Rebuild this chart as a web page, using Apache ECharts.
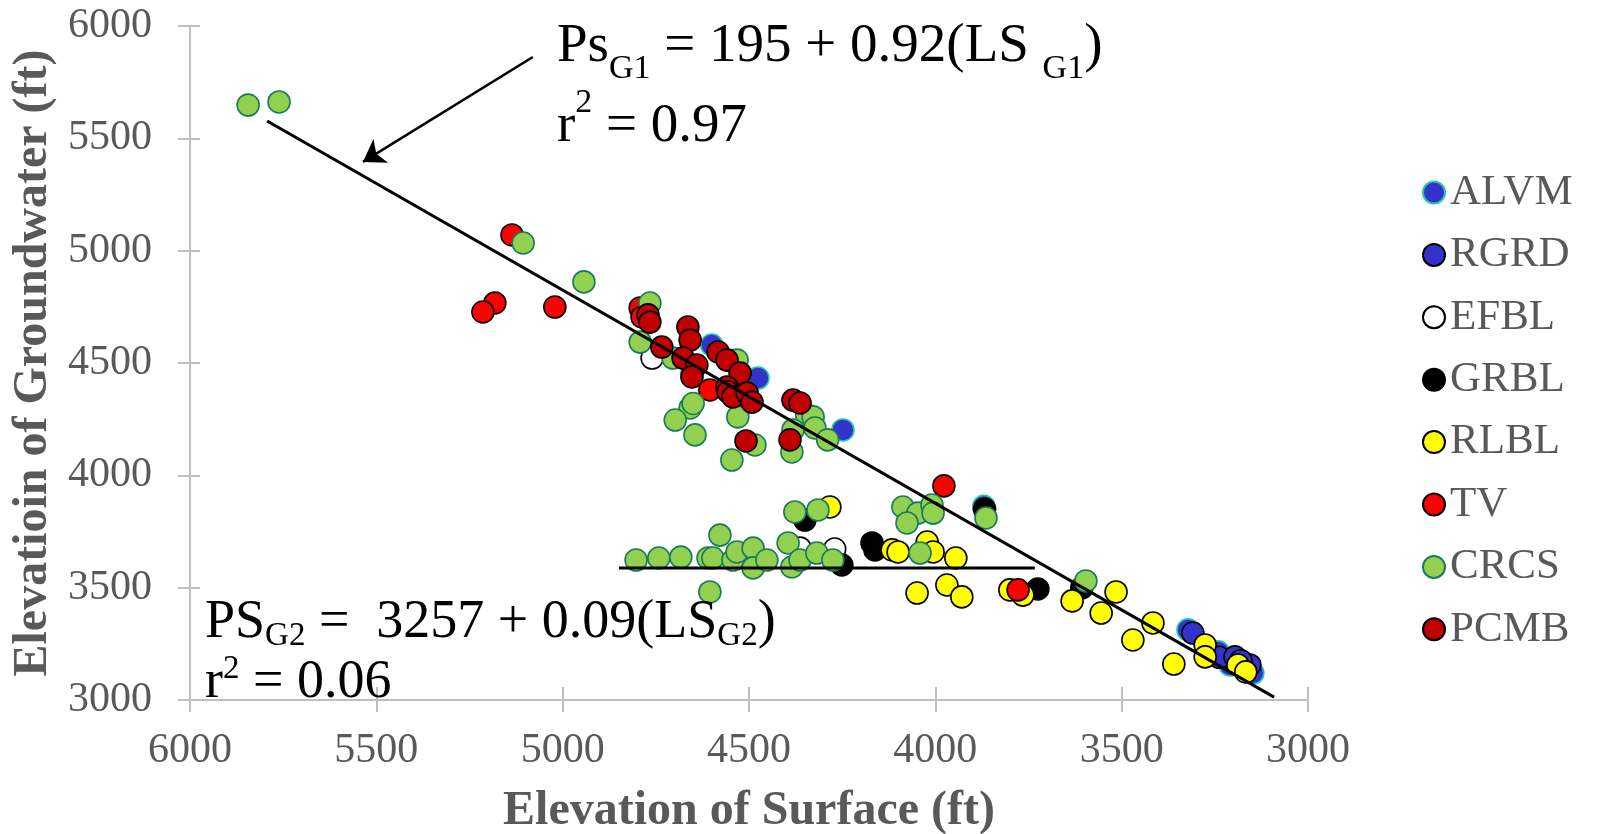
<!DOCTYPE html>
<html><head><meta charset="utf-8">
<script src="https://cdn.jsdelivr.net/npm/echarts@6/dist/echarts.min.js"></script>
<style>html,body{margin:0;padding:0;background:#fff}#c{width:1617px;height:834px}</style>
</head><body><div id="c"></div>
<script>
const FONT = 'Liberation Serif';
const seriesNames = ['ALVM','RGRD','EFBL','GRBL','RLBL','TV','CRCS','PCMB'];
const ALVM = [[4600,4580],[4476,4433],[4248,4202],[3870,3862],[3322,3312],[3241,3214],[3209,3156],[3148,3120]];
const RGRD = [[3309,3298],[3238,3190],[3196,3192],[3156,3156],[3180,3175]];
const EFBL = [[4760,4522],[4363,3676],[4270,3672]];
const GRBL = [[4350,3801],[4170,3699],[4162,3668],[4251,3601],[3868,3850],[3725,3494],[3607,3499]];
const RLBL = [[4283,3859],[4116,3668],[4100,3659],[4022,3703],[4006,3659],[3945,3632],[4049,3476],[3969,3512],[3929,3459],[3800,3490],[3765,3467],[3633,3441],[3515,3481],[3555,3387],[3416,3343],[3470,3267],[3360,3160],[3276,3245],[3276,3192],[3188,3156],[3167,3125]];
const TV = [[5136,5070],[5182,4767],[5214,4727],[5021,4749],[4792,4745],[4787,4705],[4605,4380],[3977,3953],[3778,3490]];
const CRCS = [[5844,5648],[5761,5662],[5106,5034],[4943,4861],[4766,4767],[4792,4593],[4704,4522],[4532,4513],[4653,4450],[4530,4260],[4658,4300],[4650,4320],[4698,4246],[4645,4180],[4546,4068],[4484,4135],[4345,4269],[4328,4260],[4382,4202],[4323,4211],[4289,4158],[4385,4104],[4377,3837],[4315,3846],[4087,3859],[4047,3832],[4009,3868],[4076,3788],[4006,3832],[3864,3810],[4803,3623],[4742,3632],[4683,3636],[4610,3632],[4597,3632],[4578,3734],[4543,3623],[4532,3659],[4489,3676],[4489,3588],[4452,3623],[4395,3699],[4385,3592],[4363,3623],[4318,3654],[4275,3623],[4605,3481],[4041,3654],[3596,3530]];
const PCMB = [[4771,4714],[4766,4682],[4734,4571],[4664,4660],[4658,4602],[4677,4522],[4640,4491],[4653,4438],[4583,4549],[4559,4513],[4524,4455],[4559,4393],[4556,4371],[4543,4349],[4505,4366],[4492,4326],[4508,4153],[4382,4335],[4363,4322],[4390,4158]];
const lineG1 = [[5793,5577],[3091,3013]];
const lineG2 = [[4849,3587],[3733,3587]];
const arrowG1 = [[5080,5862],[5536,5395]];

const styles = {
  ALVM: {color:'#3333cc', borderColor:'#22c6aa'},
  RGRD: {color:'#3333cc', borderColor:'#000000'},
  EFBL: {color:'#ffffff', borderColor:'#000000'},
  GRBL: {color:'#000000', borderColor:'#000000'},
  RLBL: {color:'#ffff00', borderColor:'#000000'},
  TV:   {color:'#ff0000', borderColor:'#000000'},
  CRCS: {color:'#92d050', borderColor:'#1a7a5c'},
  PCMB: {color:'#c00000', borderColor:'#000000'}
};
const dataMap = {ALVM, RGRD, EFBL, GRBL, RLBL, TV, CRCS, PCMB};

const chart = echarts.init(document.getElementById('c'), null, {renderer:'canvas'});
const axisCommon = {type:'value', min:3000, max:6000, interval:500, splitLine:{show:false}};
const axisLineStyle = {color:'#bfbfbf', width:2};
const plain = v => String(v);

const series = seriesNames.map(n => ({
  name:n, type:'scatter', data:dataMap[n], symbol:'circle', symbolSize:22,
  itemStyle:{color:styles[n].color, borderColor:styles[n].borderColor, borderWidth:1.6, opacity:1},
  emphasis:{disabled:true}, z:3
}));
series.push({type:'line', data:lineG1, symbol:'none', lineStyle:{color:'#000', width:3}, z:4, silent:true});
series.push({type:'line', data:lineG2, symbol:'none', lineStyle:{color:'#000', width:3}, z:4, silent:true});
series.push({type:'lines', coordinateSystem:'cartesian2d', data:[{coords:arrowG1}], symbol:['none','arrow'], symbolSize:[17,21],
  lineStyle:{color:'#000', width:2.6, opacity:1}, z:4, silent:true});

const rich1 = {
  m:{fontFamily:FONT, fontSize:55, lineHeight:80, fill:'#000', verticalAlign:'middle'},
  s:{fontFamily:FONT, fontSize:34, lineHeight:60, fill:'#000', verticalAlign:'bottom'},
  p:{fontFamily:FONT, fontSize:34, lineHeight:64, fill:'#000', verticalAlign:'top'}
};
const rich2 = {
  m:{fontFamily:FONT, fontSize:54, lineHeight:60, fill:'#000', verticalAlign:'middle'},
  s:{fontFamily:FONT, fontSize:33, lineHeight:40, fill:'#000', verticalAlign:'bottom'},
  p:{fontFamily:FONT, fontSize:33, lineHeight:50, fill:'#000', verticalAlign:'top'}
};

chart.setOption({
  animation:false,
  backgroundColor:'#fff',
  grid:{left:190, right:309, top:26, bottom:134, containLabel:false, outerBoundsMode:'none'},
  xAxis:[
    Object.assign({}, axisCommon, {inverse:true, position:'bottom',
      axisLine:{show:true, onZero:false, lineStyle:axisLineStyle},
      axisTick:{show:true, inside:false, length:12, lineStyle:axisLineStyle},
      axisLabel:{fontFamily:FONT, fontSize:42, color:'#595959', margin:30, formatter:plain},
      name:'Elevation of Surface (ft)', nameLocation:'middle', nameGap:88,
      nameTextStyle:{fontFamily:FONT, fontSize:48, fontWeight:'bold', color:'#595959'}}),
    Object.assign({}, axisCommon, {inverse:true, position:'bottom',
      axisLine:{show:false}, axisTick:{show:true, inside:true, length:13, lineStyle:axisLineStyle},
      axisLabel:{show:false}})
  ],
  yAxis:[
    Object.assign({}, axisCommon, {position:'left',
      axisLine:{show:true, onZero:false, lineStyle:axisLineStyle},
      axisTick:{show:true, inside:false, length:12, lineStyle:axisLineStyle},
      axisLabel:{fontFamily:FONT, fontSize:42, color:'#595959', margin:38, formatter:plain},
      name:'Elevatioin of Groundwater (ft)', nameLocation:'middle', nameGap:128, nameRotate:90,
      nameTextStyle:{fontFamily:FONT, fontSize:48, fontWeight:'bold', color:'#595959'}}),
    Object.assign({}, axisCommon, {position:'left',
      axisLine:{show:false}, axisTick:{show:true, inside:true, length:10, lineStyle:axisLineStyle},
      axisLabel:{show:false}})
  ],
  legend:{
    data:seriesNames, orient:'vertical', left:1417, top:166, icon:'circle',
    itemWidth:22, itemHeight:22, itemGap:19.4, selectedMode:false,
    textStyle:{fontFamily:FONT, fontSize:43, color:'#595959', lineHeight:42}
  },
  graphic:[
    {type:'text', left:557, top:19, z:10, silent:true, style:{
      text:'{m|Ps}{s|G1}{m| = 195 + 0.92(LS }{s|G1}{m|)}\n{m|r}{p|2}{m| = 0.97}', rich:rich1}},
    {type:'text', left:205, top:596, z:10, silent:true, style:{
      text:'{m|PS}{s|G2}{m| =  3257 + 0.09(LS}{s|G2}{m|)}\n{m|r}{p|2}{m| = 0.06}', rich:rich2}}
  ],
  series:series
});
</script></body></html>
